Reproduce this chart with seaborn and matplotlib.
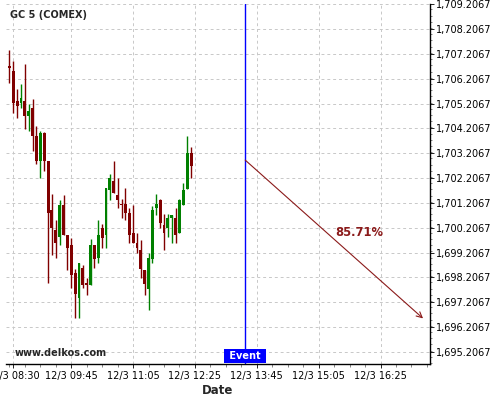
import pandas as pd
import numpy as np
import seaborn as sns
import matplotlib.pyplot as plt
import matplotlib.dates as mdates
import matplotlib.ticker as mticker
from matplotlib.transforms import blended_transform_factory

# 5 minute candles, GC 5 (COMEX)
first_bar = '2021-03-12 08:25'
opens = [1706.71, 1706.51, 1705.30, 1705.23, 1705.30, 1704.71, 1705.01, 1703.89,
         1702.90, 1704.01, 1702.89, 1700.91, 1700.11, 1699.84, 1701.14, 1699.91,
         1699.50, 1698.37, 1697.38, 1698.59, 1697.99, 1697.89, 1699.50, 1698.99,
         1700.20, 1699.91, 1701.72, 1702.08, 1701.52, 1701.18, 1701.18, 1700.78,
         1699.98, 1699.57, 1699.30, 1698.50, 1697.72, 1698.93, 1701.01, 1701.32,
         1700.31, 1700.20, 1700.60, 1700.60, 1700.00, 1701.14, 1701.75, 1703.20]
highs = [1707.38, 1706.91, 1705.81, 1706.01, 1706.82, 1705.21, 1705.41, 1704.30,
         1704.11, 1704.07, 1702.89, 1701.58, 1700.51, 1701.32, 1701.52, 1699.91,
         1699.80, 1698.54, 1698.77, 1698.70, 1698.16, 1699.77, 1699.50, 1700.51,
         1700.34, 1701.79, 1702.39, 1702.89, 1702.19, 1701.38, 1701.79, 1700.98,
         1701.11, 1699.98, 1699.71, 1698.50, 1699.17, 1701.07, 1701.58, 1701.38,
         1700.74, 1700.74, 1700.71, 1700.98, 1701.38, 1701.99, 1703.89, 1703.46]
lows = [1706.02, 1704.81, 1704.61, 1705.01, 1704.20, 1704.09, 1703.29, 1702.79,
        1702.19, 1702.48, 1697.96, 1699.10, 1698.97, 1699.50, 1699.93, 1698.50,
        1697.76, 1696.55, 1696.58, 1697.76, 1697.49, 1697.89, 1698.57, 1698.77,
        1699.40, 1699.37, 1701.32, 1701.61, 1700.98, 1700.58, 1700.51, 1699.57,
        1699.57, 1699.17, 1698.16, 1697.49, 1696.89, 1698.77, 1700.71, 1700.18,
        1699.30, 1699.84, 1699.57, 1699.57, 1699.98, 1701.11, 1701.75, 1702.19]
closes = [1706.63, 1705.23, 1705.11, 1705.42, 1704.71, 1704.90, 1703.91, 1702.90,
          1704.01, 1702.90, 1700.80, 1700.20, 1699.60, 1701.14, 1699.93, 1699.40,
          1698.32, 1697.52, 1698.77, 1697.89, 1697.89, 1699.50, 1698.93, 1699.93,
          1699.81, 1701.79, 1702.19, 1701.61, 1701.32, 1701.11, 1700.80, 1699.91,
          1699.60, 1699.40, 1698.53, 1697.92, 1699.00, 1700.91, 1701.18, 1700.40,
          1700.00, 1700.60, 1700.71, 1699.93, 1701.32, 1701.72, 1703.20, 1702.69]

# event and forecast arrow
event_time = '2021-03-12 13:30'
arrow_start = ('2021-03-12 13:30', 1702.93)
arrow_end = ('2021-03-12 17:20', 1696.55)
prob_label = '85.71%'
prob_pos = ('2021-03-12 15:57', 1700.03)

x_ticks = ['08:30', '09:45', '11:05', '12:25', '13:45', '15:05', '16:25']
y_ticks = [1695.2067 + i for i in range(15)]

df = pd.DataFrame({'open': opens, 'high': highs, 'low': lows, 'close': closes})
df['time'] = pd.date_range(first_bar, periods=len(df), freq='5min')
df['x'] = mdates.date2num(df['time'])
df['up'] = df['close'] >= df['open']

sns.set_style('white')
plt.rcParams['font.family'] = ['DejaVu Sans']

fig = plt.figure(figsize=(5, 4), dpi=100)
ax = fig.add_axes([0.012, 0.09, 0.848, 0.90])

green, red = '#008000', '#800000'
colors = np.where(df['up'], green, red)
bar_w = 5 / 1440 * 0.75

ax.vlines(df['x'], df['low'], df['high'], colors=colors, linewidth=1, zorder=3)
ax.bar(df['x'], (df['close'] - df['open']).abs().clip(lower=0.06),
       bottom=np.minimum(df['open'], df['close']), width=bar_w,
       color=colors, linewidth=0, zorder=4)

day = '2021-03-12 '
ax.set_xlim(mdates.date2num(pd.Timestamp(day + '08:20:36')),
            mdates.date2num(pd.Timestamp(day + '17:29:00')))
ax.set_ylim(1694.714, 1709.22)

ev = mdates.date2num(pd.Timestamp(event_time))
ax.axvline(ev, color='#0000ff', linewidth=1, zorder=5)
trans = blended_transform_factory(ax.transData, ax.transAxes)
ax.text(ev, 0.009, ' Event ', transform=trans, ha='center', va='bottom',
        color='white', fontsize=7, fontweight='bold', zorder=6,
        bbox=dict(boxstyle='square,pad=0.2', fc='#0000ff', ec='none'))

xs = mdates.date2num(pd.Timestamp(arrow_start[0]))
xe = mdates.date2num(pd.Timestamp(arrow_end[0]))
ax.annotate('', xy=(xe, arrow_end[1]), xytext=(xs, arrow_start[1]),
            arrowprops=dict(arrowstyle='->', color='#8b1a1a', lw=0.8,
                            mutation_scale=10, shrinkA=0, shrinkB=0), zorder=6)
ax.text(mdates.date2num(pd.Timestamp(prob_pos[0])), prob_pos[1], prob_label,
        color='#8b1a1a', fontsize=8.3, fontweight='bold', ha='center', va='center')

# axes, ticks, grid
ax.set_xticks([mdates.date2num(pd.Timestamp(day + t)) for t in x_ticks])
ax.xaxis.set_major_formatter(mticker.FuncFormatter(
    lambda v, p: '{}/{} {}'.format(mdates.num2date(v).day, mdates.num2date(v).month,
                                   mdates.num2date(v).strftime('%H:%M'))))
ax.xaxis.set_minor_locator(mdates.MinuteLocator(byminute=[5, 25, 45]))
ax.yaxis.tick_right()
ax.set_yticks(y_ticks)
ax.yaxis.set_minor_locator(mticker.MultipleLocator(0.25))
ax.yaxis.set_major_formatter(mticker.FuncFormatter(lambda v, p: '{:,.4f}'.format(v)))

ax.tick_params(axis='both', which='major', labelsize=7, direction='out',
               length=3, width=0.6, color='black', labelcolor='black')
ax.tick_params(axis='x', which='major', pad=2, bottom=True)
ax.tick_params(axis='y', which='major', pad=1, right=True)
ax.tick_params(axis='x', which='minor', bottom=True, length=2, width=0.5, color='#555555')
ax.tick_params(axis='y', which='minor', right=True, left=False, length=1.5, width=0.5,
               color='#555555')

ax.grid(True, which='major', color='#c8c8c8', linestyle=(0, (3, 3)), linewidth=0.7)
ax.set_axisbelow(True)
for s in ['top', 'left']:
    ax.spines[s].set_visible(False)
for s in ['right', 'bottom']:
    ax.spines[s].set_color('black')
    ax.spines[s].set_linewidth(1)

ax.set_xlabel('Date', fontsize=8.5, fontweight='bold', labelpad=2)
fig.text(10 / 500, 1 - 15.5 / 400, 'GC 5 (COMEX)', fontsize=7, fontweight='bold',
         ha='left', va='center')
fig.text(15 / 500, 1 - 353.5 / 400, 'www.delkos.com', fontsize=7, fontweight='bold',
         ha='left', va='center')

fig.savefig('out.png', dpi=100)
